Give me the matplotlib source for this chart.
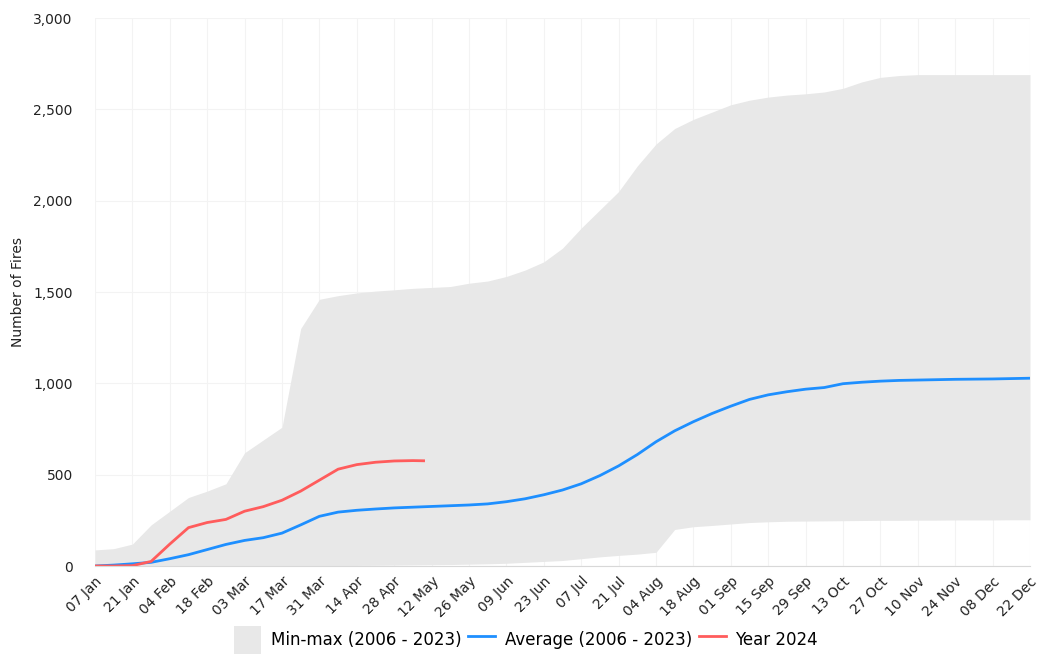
import matplotlib
matplotlib.use("Agg")
import matplotlib.pyplot as plt
import pandas as pd

# weekly dates (categories)
week_dates = pd.date_range("2024-01-07", "2024-12-22", freq="7D")

# Min-max band (2006 - 2023)
band_max = [88, 95, 120, 225, 300, 375, 410, 450, 620, 690,
            760, 1300, 1460, 1480, 1495, 1505, 1512, 1520, 1525, 1530,
            1548, 1560, 1585, 1620, 1665, 1740, 1850, 1950, 2050, 2190,
            2310, 2395, 2445, 2485, 2525, 2550, 2567, 2578, 2585, 2595,
            2615, 2650, 2675, 2685, 2690, 2690, 2690, 2690, 2690, 2690,
            2690]
band_min = [0, 0, 0, 0, 0, 0, 0, 0, 0, 0,
            0, 0, 0, 2, 3, 4, 5, 6, 7, 8,
            10, 12, 15, 20, 25, 30, 40, 50, 58, 65,
            75, 200, 215, 222, 230, 238, 242, 245, 246, 247,
            248, 249, 250, 250, 251, 251, 252, 252, 252, 253,
            253]

# Average (2006 - 2023)
average = [0, 5, 12, 20, 40, 62, 90, 118, 140, 155,
           180, 225, 272, 295, 305, 312, 318, 322, 326, 330,
           334, 340, 352, 368, 390, 416, 450, 495, 548, 610,
           680, 740, 790, 835, 875, 912, 937, 954, 968, 977,
           998, 1006, 1012, 1016, 1018, 1020, 1022, 1023, 1024, 1026,
           1028]

# Year 2024
year_dates = ["2024-01-07", "2024-01-14", "2024-01-21", "2024-01-28", "2024-02-04",
              "2024-02-11", "2024-02-18", "2024-02-25", "2024-03-03", "2024-03-10",
              "2024-03-17", "2024-03-24", "2024-03-31", "2024-04-07", "2024-04-14",
              "2024-04-21", "2024-04-28", "2024-05-05", "2024-05-09"]
year_2024 = [0, 0, 2, 25, 120, 210, 238, 255, 300, 325,
             360, 410, 470, 530, 555, 568, 575, 577, 576]

tick_labels = ["07 Jan", "21 Jan", "04 Feb", "18 Feb", "03 Mar", "17 Mar", "31 Mar",
               "14 Apr", "28 Apr", "12 May", "26 May", "09 Jun", "23 Jun", "07 Jul",
               "21 Jul", "04 Aug", "18 Aug", "01 Sep", "15 Sep", "29 Sep", "13 Oct",
               "27 Oct", "10 Nov", "24 Nov", "08 Dec", "22 Dec"]
y_ticks = [0, 500, 1000, 1500, 2000, 2500, 3000]
y_tick_labels = ["0", "500", "1,000", "1,500", "2,000", "2,500", "3,000"]

plt.rcParams["font.family"] = ["DejaVu Sans"]

fig = plt.figure(figsize=(10.42, 6.61), dpi=100)
ax = fig.add_axes([95 / 1042, (661 - 566) / 661, (1030 - 95) / 1042, (566 - 18) / 661])

ax.fill_between(week_dates, band_min, band_max, color="#e8e8e8", linewidth=0,
                label="Min-max (2006 - 2023)")
ax.plot(week_dates, average, color="#1e8fff", linewidth=2.0, label="Average (2006 - 2023)")
ax.plot(pd.to_datetime(year_dates), year_2024, color="#ff5c5c", linewidth=2.0,
        label="Year 2024")

ax.set_xlim(week_dates[0], week_dates[-1])
ax.set_ylim(0, 3000)

tick_pos = week_dates[::2]
ax.set_xticks(tick_pos)
ax.set_xticklabels(tick_labels, rotation=45, ha="right", rotation_mode="anchor",
                   fontsize=10, color="#222222")
ax.set_yticks(y_ticks)
ax.set_yticklabels(y_tick_labels, fontsize=10, color="#222222")
ax.tick_params(axis="both", length=0, pad=6)
ax.tick_params(axis="y", pad=16)

for s in ["top", "right", "left"]:
    ax.spines[s].set_visible(False)
ax.spines["bottom"].set_color("#d8d8d8")
ax.spines["bottom"].set_linewidth(0.8)

ax.grid(True, axis="both", color="#f3f3f3", linewidth=0.8)
ax.set_axisbelow(True)

ax.set_ylabel("Number of Fires", fontsize=10, color="#222222", labelpad=6)

fig.legend(loc="lower center", bbox_to_anchor=(0.505, -0.012), ncol=3,
           frameon=False, fontsize=12, handlelength=1.6, handleheight=2.2,
           columnspacing=0.4, handletextpad=0.6)

fig.savefig("out.png", dpi=100, facecolor="white")
